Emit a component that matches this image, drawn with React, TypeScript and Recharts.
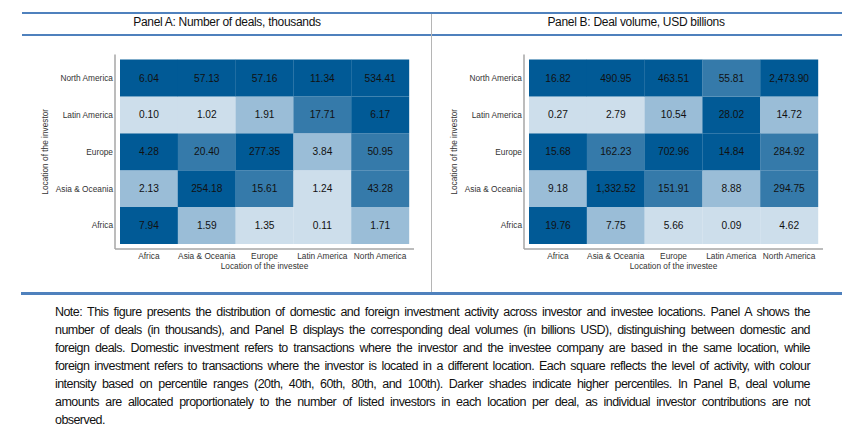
import { BarChart, Bar, Cell, LabelList, XAxis, YAxis } from 'recharts';

const investees = ['Africa', 'Asia & Oceania', 'Europe', 'Latin America', 'North America'];
// bottom to top on the y axis
const investors = ['Africa', 'Asia & Oceania', 'Europe', 'Latin America', 'North America'];

const dealValues = [
    [7.94, 1.59, 1.35, 0.11, 1.71],
    [2.13, 254.18, 15.61, 1.24, 43.28],
    [4.28, 20.4, 277.35, 3.84, 50.95],
    [0.1, 1.02, 1.91, 17.71, 6.17],
    [6.04, 57.13, 57.16, 11.34, 534.41],
];
const dealShades = [
    [3, 1, 0, 0, 1],
    [1, 3, 2, 0, 2],
    [3, 2, 3, 1, 2],
    [0, 0, 1, 2, 3],
    [3, 3, 3, 3, 3],
];

const volumeValues = [
    [19.76, 7.75, 5.66, 0.09, 4.62],
    [9.18, 1332.52, 151.91, 8.88, 294.75],
    [15.68, 162.23, 702.96, 14.84, 284.92],
    [0.27, 2.79, 10.54, 28.02, 14.72],
    [16.82, 490.95, 463.51, 55.81, 2473.9],
];
const volumeShades = [
    [3, 1, 0, 0, 0],
    [1, 3, 2, 1, 2],
    [3, 2, 3, 3, 2],
    [0, 0, 1, 3, 1],
    [3, 3, 3, 2, 3],
];

const SHADES = ['#cddeeb', '#9abdd7', '#357aaa', '#015a96'];
const rowTicks = [0.5, 1.5, 2.5, 3.5, 4.5];

const noteLines = [
    'Note: This figure presents the distribution of domestic and foreign investment activity across investor and investee locations. Panel A shows the',
    'number of deals (in thousands), and Panel B displays the corresponding deal volumes (in billions USD), distinguishing between domestic and',
    'foreign deals. Domestic investment refers to transactions where the investor and the investee company are based in the same location, while',
    'foreign investment refers to transactions where the investor is located in a different location. Each square reflects the level of activity, with colour',
    'intensity based on percentile ranges (20th, 40th, 60th, 80th, and 100th). Darker shades indicate higher percentiles. In Panel B, deal volume',
    'amounts are allocated proportionately to the number of listed investors in each location per deal, as individual investor contributions are not',
    'observed.',
];

const FONT = '"Liberation Sans", Arial, sans-serif';
const RULE = '#4f81bd';
const AXIS = { stroke: '#a6a6a6', strokeWidth: 1.5 };

const fmt = (v: number) => v.toLocaleString('en-US', { minimumFractionDigits: 2, maximumFractionDigits: 2 });

interface PanelProps {
    values: number[][];
    shades: number[][];
    left: number;
    yAxisWidth: number;
}

function HeatPanel({ values, shades, left, yAxisWidth }: PanelProps) {
    const rows = investees.map((name, col) => {
        const row: Record<string, string | number> = { name };
        investors.forEach((_, r) => {
            row[`r${r}`] = 1;
            row[`v${r}`] = fmt(values[r][col]);
        });
        return row;
    });

    return (
        <div style={{ position: 'absolute', left, top: 0 }}>
            <BarChart
                width={432}
                height={300}
                data={rows}
                barCategoryGap={0}
                margin={{ top: 54.5, right: 18, bottom: 31, left: 0 }}
            >
                <XAxis
                    dataKey="name"
                    interval={0}
                    height={20}
                    padding={{ left: 5, right: 5 }}
                    axisLine={AXIS}
                    tickLine={false}
                    tickSize={0}
                    tickMargin={4}
                    tick={{ fontSize: 8.3, fill: '#333', fontFamily: FONT }}
                    label={{ value: 'Location of the investee', position: 'insideBottom', offset: 0, fontSize: 8.3, fill: '#333', fontFamily: FONT }}
                />
                <YAxis
                    type="number"
                    domain={[0, 5]}
                    ticks={rowTicks}
                    width={yAxisWidth}
                    padding={{ top: 5, bottom: 5 }}
                    axisLine={AXIS}
                    tickLine={false}
                    tickSize={0}
                    tickMargin={2}
                    tickFormatter={(v: number) => investors[Math.floor(v)]}
                    tick={{ fontSize: 8.3, fill: '#333', fontFamily: FONT }}
                    label={{ value: 'Location of the investor', angle: -90, position: 'insideLeft', offset: yAxisWidth - 70, fontSize: 8.3, fill: '#333', fontFamily: FONT, style: { textAnchor: 'middle' } }}
                />
                {investors.map((inv, r) => (
                    <Bar key={inv} dataKey={`r${r}`} stackId="cells" isAnimationActive={false}>
                        {investees.map((col, c) => (
                            <Cell key={col} fill={SHADES[shades[r][c]]} />
                        ))}
                        <LabelList dataKey={`v${r}`} position="center" fontSize={10.2} fill="#111" fontFamily={FONT} />
                    </Bar>
                ))}
            </BarChart>
        </div>
    );
}

const rule = (top: number, left: number, width: number, height = 2) => (
    <div style={{ position: 'absolute', top, left, width, height, background: RULE }} />
);

const title = (text: string, center: number) => (
    <div style={{ position: 'absolute', top: 15, left: center - 200, width: 400, textAlign: 'center', fontSize: 12, letterSpacing: -0.3, color: '#111', fontFamily: FONT }}>
        {text}
    </div>
);

export default function App() {
    return (
        <div style={{ position: 'absolute', left: 0, top: 0, width: 864, height: 428, background: '#fff', overflow: 'hidden' }}>
            <HeatPanel values={dealValues} shades={dealShades} left={0} yAxisWidth={115} />
            <HeatPanel values={volumeValues} shades={volumeShades} left={409} yAxisWidth={115} />
            {rule(11.5, 22, 820, 2.5)}
            {rule(34, 22, 820)}
            {rule(292, 21, 821, 2.5)}
            <div style={{ position: 'absolute', left: 431, top: 14, width: 1, height: 278, background: '#b5b5b5' }} />
            {title('Panel A: Number of deals, thousands', 227)}
            {title('Panel B: Deal volume, USD billions', 636)}
            {noteLines.map((line, i) => (
                <div
                    key={i}
                    style={{
                        position: 'absolute',
                        left: 55,
                        top: 305 + i * 18,
                        width: 755,
                        fontSize: 12.5,
                        letterSpacing: -0.56,
                        color: '#111',
                        fontFamily: FONT,
                        whiteSpace: 'nowrap',
                        textAlign: 'justify',
                        textAlignLast: i < noteLines.length - 1 ? 'justify' : 'left',
                    }}
                >
                    {line}
                </div>
            ))}
        </div>
    );
}
